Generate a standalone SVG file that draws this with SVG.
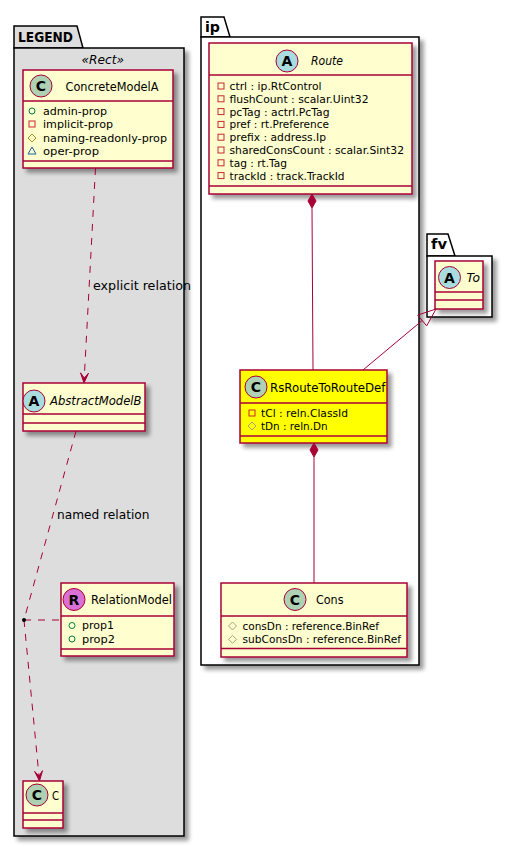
<svg xmlns="http://www.w3.org/2000/svg" width="512" height="847" viewBox="0 0 512 847">
<defs>
<filter id="sh" x="-20%" y="-20%" width="150%" height="150%">
<feGaussianBlur in="SourceAlpha" stdDeviation="2"/>
<feOffset dx="4" dy="4" result="b"/>
<feComponentTransfer><feFuncA type="linear" slope="0.4"/></feComponentTransfer>
<feMerge><feMergeNode/><feMergeNode in="SourceGraphic"/></feMerge>
</filter>
</defs>
<style>
text{font-family:"DejaVu Sans","Liberation Sans",sans-serif;fill:#000}
.pkg{stroke:#000;stroke-width:1.5}
.pt{font-weight:bold;font-size:14px}
.box{fill:#FEFECE;stroke:#A80036;stroke-width:1.5}
.yel{fill:#FFFF00}
.sep{stroke:#A80036;stroke-width:1.5}
.ti{font-size:12.5px}
.it{font-style:italic}
.at{font-size:11px}
.lab{font-size:13px}
.sp{stroke:#A80036;stroke-width:1}
.sl{font-weight:bold;font-size:14px;text-anchor:middle}
.ic{fill:none;stroke-width:1}
.cl{stroke:#A80036;stroke-width:1;fill:none}
.ds{stroke-dasharray:7,7}
.ah{fill:#A80036;stroke:#A80036;stroke-width:1}
</style>

<g id="pkg-legend">
<path class="pkg" d="M14,48 L14,26 L77,26 L83,48 Z" fill="#DDDDDD"/>
<rect class="pkg" x="14" y="48" width="170" height="788" fill="#DDDDDD" filter="url(#sh)"/>
<text class="pt" x="18" y="42" textLength="55" lengthAdjust="spacingAndGlyphs">LEGEND</text>
<text class="lab it" x="81.5" y="64" font-size="12" textLength="42.5" lengthAdjust="spacingAndGlyphs">«Rect»</text>
</g>

<g id="pkg-ip">
<path class="pkg" d="M201,37 L201,17 L224,17 L230,37 Z" fill="#FFFFFF"/>
<rect class="pkg" x="201" y="37" width="218" height="628" fill="#FFFFFF" filter="url(#sh)"/>
<text class="pt" x="205" y="32" textLength="15" lengthAdjust="spacingAndGlyphs">ip</text>
</g>

<g id="pkg-fv">
<path class="pkg" d="M427,256 L427,234 L448,234 L455,256 Z" fill="#FFFFFF"/>
<rect class="pkg" x="427" y="256" width="65" height="61" fill="#FFFFFF" filter="url(#sh)"/>
<text class="pt" x="431" y="249" textLength="16" lengthAdjust="spacingAndGlyphs">fv</text>
</g>

<g id="ConcreteModelA">
<rect class="box" x="23" y="70" width="150" height="98" filter="url(#sh)"/>
<line class="sep" x1="23" y1="101" x2="173" y2="101"/>
<line class="sep" x1="23" y1="161" x2="173" y2="161"/>
<circle class="sp" cx="41" cy="86" r="11" fill="#ADD1B2"/>
<text class="sl" x="41" y="91">C</text>
<text class="ti" x="65.5" y="91" textLength="93" lengthAdjust="spacingAndGlyphs">ConcreteModelA</text>
<circle class="ic" cx="32" cy="111" r="3" stroke="#038048"/>
<text class="at" x="43" y="115" textLength="64" lengthAdjust="spacingAndGlyphs">admin-prop</text>
<rect class="ic" x="29" y="121" width="6" height="6" stroke="#C82930"/>
<text class="at" x="43" y="128" textLength="70" lengthAdjust="spacingAndGlyphs">implicit-prop</text>
<polygon class="ic" points="32,134 36,138 32,142 28,138" stroke="#B38D22"/>
<text class="at" x="43" y="141.5" textLength="124" lengthAdjust="spacingAndGlyphs">naming-readonly-prop</text>
<polygon class="ic" points="32,147 36,154 28,154" stroke="#1963A0"/>
<text class="at" x="43" y="154.5" textLength="56" lengthAdjust="spacingAndGlyphs">oper-prop</text>
</g>

<g id="AbstractModelB">
<rect class="box" x="23" y="383" width="122" height="48" filter="url(#sh)"/>
<line class="sep" x1="23" y1="414" x2="145" y2="414"/>
<line class="sep" x1="23" y1="423" x2="145" y2="423"/>
<circle class="sp" cx="34" cy="401" r="11" fill="#A9DCDF"/>
<text class="sl" x="34" y="406">A</text>
<text class="ti it" x="50" y="405" textLength="91.5" lengthAdjust="spacingAndGlyphs">AbstractModelB</text>
</g>

<g id="RelationModel">
<rect class="box" x="61" y="583" width="113" height="73" filter="url(#sh)"/>
<line class="sep" x1="61" y1="616" x2="174" y2="616"/>
<line class="sep" x1="61" y1="649" x2="174" y2="649"/>
<circle class="sp" cx="74" cy="599.5" r="11" fill="#DA70D6"/>
<text class="sl" x="74" y="604.5">R</text>
<text class="ti" x="91" y="604" textLength="81" lengthAdjust="spacingAndGlyphs">RelationModel</text>
<circle class="ic" cx="72" cy="625.5" r="3" stroke="#038048"/>
<text class="at" x="82" y="629" textLength="32" lengthAdjust="spacingAndGlyphs">prop1</text>
<circle class="ic" cx="72" cy="639" r="3" stroke="#038048"/>
<text class="at" x="82" y="642.5" textLength="33" lengthAdjust="spacingAndGlyphs">prop2</text>
</g>

<g id="C">
<rect class="box" x="23" y="781" width="40" height="47" filter="url(#sh)"/>
<line class="sep" x1="23" y1="813" x2="63" y2="813"/>
<line class="sep" x1="23" y1="820" x2="63" y2="820"/>
<circle class="sp" cx="37" cy="795" r="11" fill="#ADD1B2"/>
<text class="sl" x="37" y="800">C</text>
<text class="ti" x="52" y="799.5" textLength="7" lengthAdjust="spacingAndGlyphs">C</text>
</g>

<g id="Route">
<rect class="box" x="209" y="43" width="203" height="151" filter="url(#sh)"/>
<line class="sep" x1="209" y1="75" x2="412" y2="75"/>
<line class="sep" x1="209" y1="186" x2="412" y2="186"/>
<circle class="sp" cx="287" cy="61" r="11" fill="#A9DCDF"/>
<text class="sl" x="287" y="66">A</text>
<text class="ti it" x="311" y="64.5" textLength="32" lengthAdjust="spacingAndGlyphs">Route</text>
<g class="ic" stroke="#C82930">
<rect x="218" y="83" width="6" height="6"/>
<rect x="218" y="95.8" width="6" height="6"/>
<rect x="218" y="108.6" width="6" height="6"/>
<rect x="218" y="121.4" width="6" height="6"/>
<rect x="218" y="134.2" width="6" height="6"/>
<rect x="218" y="147" width="6" height="6"/>
<rect x="218" y="159.8" width="6" height="6"/>
<rect x="218" y="172.6" width="6" height="6"/>
</g>
<text class="at" x="229.5" y="90" textLength="92" lengthAdjust="spacingAndGlyphs">ctrl : ip.RtControl</text>
<text class="at" x="229.5" y="102.8" textLength="139" lengthAdjust="spacingAndGlyphs">flushCount : scalar.Uint32</text>
<text class="at" x="229.5" y="115.6" textLength="100" lengthAdjust="spacingAndGlyphs">pcTag : actrl.PcTag</text>
<text class="at" x="229.5" y="128.4" textLength="99.5" lengthAdjust="spacingAndGlyphs">pref : rt.Preference</text>
<text class="at" x="229.5" y="141.2" textLength="96.5" lengthAdjust="spacingAndGlyphs">prefix : address.Ip</text>
<text class="at" x="229.5" y="154" textLength="174.5" lengthAdjust="spacingAndGlyphs">sharedConsCount : scalar.Sint32</text>
<text class="at" x="229.5" y="166.8" textLength="57.5" lengthAdjust="spacingAndGlyphs">tag : rt.Tag</text>
<text class="at" x="229.5" y="179.6" textLength="115" lengthAdjust="spacingAndGlyphs">trackId : track.TrackId</text>
</g>

<g id="RsRouteToRouteDef">
<rect class="box yel" x="240" y="370" width="147" height="73" filter="url(#sh)"/>
<line class="sep" x1="240" y1="403" x2="387" y2="403"/>
<line class="sep" x1="240" y1="436" x2="387" y2="436"/>
<circle class="sp" cx="256" cy="387" r="11" fill="#ADD1B2"/>
<text class="sl" x="256" y="392">C</text>
<text class="ti" x="270" y="391.5" textLength="115.5" lengthAdjust="spacingAndGlyphs">RsRouteToRouteDef</text>
<rect class="ic" x="249" y="410" width="6" height="6" stroke="#C82930"/>
<text class="at" x="261" y="417" textLength="87" lengthAdjust="spacingAndGlyphs">tCl : reln.ClassId</text>
<polygon class="ic" points="252,422 256,426 252,430 248,426" stroke="#A8A080"/>
<text class="at" x="261" y="429.5" textLength="66.5" lengthAdjust="spacingAndGlyphs">tDn : reln.Dn</text>
</g>

<g id="To">
<rect class="box" x="435" y="261" width="48" height="48" filter="url(#sh)"/>
<line class="sep" x1="435" y1="292" x2="483" y2="292"/>
<line class="sep" x1="435" y1="300" x2="483" y2="300"/>
<circle class="sp" cx="449.5" cy="277.5" r="11" fill="#A9DCDF"/>
<text class="sl" x="449.5" y="282.5">A</text>
<text class="ti it" x="466.5" y="282" textLength="13.5" lengthAdjust="spacingAndGlyphs">To</text>
</g>

<g id="Cons">
<rect class="box" x="221" y="583" width="186" height="74" filter="url(#sh)"/>
<line class="sep" x1="221" y1="616" x2="407" y2="616"/>
<line class="sep" x1="221" y1="648.5" x2="407" y2="648.5"/>
<circle class="sp" cx="295" cy="599.5" r="11" fill="#ADD1B2"/>
<text class="sl" x="295" y="604.5">C</text>
<text class="ti" x="316" y="604" textLength="27.5" lengthAdjust="spacingAndGlyphs">Cons</text>
<polygon class="ic" points="232.5,622 236.5,626 232.5,630 228.5,626" stroke="#A8A080"/>
<text class="at" x="242.5" y="629.5" textLength="136.5" lengthAdjust="spacingAndGlyphs">consDn : reference.BinRef</text>
<polygon class="ic" points="232.5,635.3 236.5,639.3 232.5,643.3 228.5,639.3" stroke="#A8A080"/>
<text class="at" x="242.5" y="642.8" textLength="158.5" lengthAdjust="spacingAndGlyphs">subConsDn : reference.BinRef</text>
</g>

<g id="connectors">
<line class="cl ds" x1="95.5" y1="168" x2="84.3" y2="377"/>
<polygon class="ah" points="84,383 80.5,372.8 84.27,378 88.5,373.2"/>
<text class="lab" x="93" y="290" textLength="98" lengthAdjust="spacingAndGlyphs">explicit relation</text>

<line class="cl ds" x1="76" y1="431" x2="24" y2="620"/>
<text class="lab" x="57" y="518.5" textLength="92.5" lengthAdjust="spacingAndGlyphs">named relation</text>
<line class="cl ds" x1="24" y1="620" x2="61" y2="620"/>
<line class="cl ds" x1="24" y1="620" x2="39" y2="776"/>
<polygon class="ah" points="39.5,781 34.6,771.4 39,776 42.5,770.7"/>
<circle cx="24" cy="620" r="2" fill="#000"/>

<polygon class="ah" points="312,194 316,201 312,208 308,201"/>
<line class="cl" x1="312" y1="208" x2="313" y2="370"/>

<polygon class="ah" points="314,443 318,450 314,457 310,450"/>
<line class="cl" x1="314" y1="457" x2="314" y2="583"/>

<line class="cl" x1="363" y1="370" x2="422.2" y2="320.5"/>
<polygon class="cl" points="436,309 417.7,315.1 426.7,325.9"/>
</g>
</svg>
